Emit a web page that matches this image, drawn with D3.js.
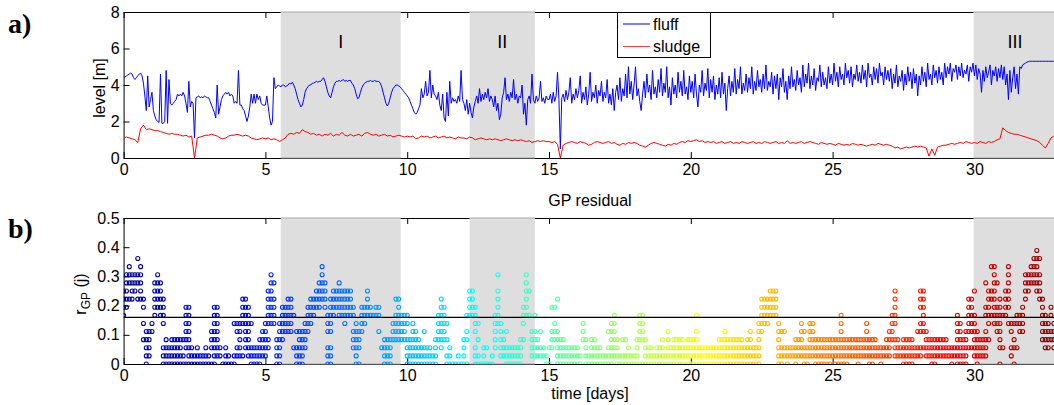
<!DOCTYPE html>
<html>
<head>
<meta charset="utf-8">
<script src="https://cdn.jsdelivr.net/npm/d3@7"></script>
<style>
  body { margin: 0; background: #fff; }
  text { font-family: "Liberation Sans", Arial, sans-serif; }
</style>
</head>
<body>
<div id="chart"></div>
<script>
const fluffStep = 0.05;
const fluff = [
  4.4,4.45,4.5,4.55,4.6,4.65,4.6,4.4,4.3,4.4,4.5,4.6,4.65,4.5,4.1,3.4,2.6,4.5,2.8,3.2,
  3.6,2.6,2.3,2.1,2.0,1.95,4.6,1.9,1.9,2.0,4.8,1.9,4.3,3.0,2.9,3.0,3.1,3.2,3.5,3.4,
  3.5,3.4,3.6,3.4,3.0,2.5,4.2,2.8,3.1,3.0,1.1,3.3,3.35,3.4,3.3,3.35,3.3,3.4,3.35,3.3,
  3.3,3.1,2.9,2.7,2.5,2.2,4.0,2.4,2.8,3.2,3.4,3.5,3.6,3.5,3.6,3.4,3.5,3.4,3.0,3.1,
  3.0,4.8,2.9,2.9,2.7,2.6,2.3,2.0,2.3,2.8,3.5,3.0,3.5,3.0,3.5,3.2,3.4,3.0,2.9,2.9,
  2.9,3.4,2.8,2.2,1.8,2.0,4.4,3.8,3.9,4.0,3.95,3.9,4.0,4.0,3.9,3.95,4.0,4.1,4.05,4.15,
  4.0,3.8,3.5,3.2,3.0,2.8,2.9,3.2,3.6,3.8,3.9,4.0,4.0,4.1,4.1,4.15,4.2,4.15,4.2,4.2,
  4.3,4.4,4.2,3.9,3.6,3.4,3.3,3.6,3.9,4.1,4.2,4.2,4.25,4.2,4.25,4.3,4.2,4.25,4.2,4.25,
  4.25,4.1,4.0,3.8,3.5,3.25,3.3,3.6,3.85,4.0,4.1,4.15,4.2,4.2,4.25,4.2,4.2,4.25,4.2,4.2,
  4.2,4.1,3.9,3.6,3.3,3.0,2.85,3.0,3.3,3.6,3.8,3.9,4.0,4.0,3.95,3.9,3.8,3.7,3.6,3.5,
  3.4,3.3,3.1,2.9,2.7,2.5,2.4,2.5,2.7,2.9,3.8,3.3,3.5,4.2,3.4,3.6,4.8,3.3,4.0,3.5,
  3.4,3.2,3.6,2.9,2.6,3.5,2.2,2.0,3.6,2.3,4.2,3.0,3.3,3.1,3.2,3.0,3.4,3.1,4.8,3.2,
  3.0,2.6,3.2,2.4,3.0,2.5,2.2,2.8,3.1,3.4,3.0,3.8,3.1,3.5,3.2,3.6,3.3,3.8,3.1,3.4,
  3.2,2.8,3.4,2.6,3.0,2.1,2.4,3.3,3.6,4.4,3.2,3.5,3.1,3.6,3.3,4.3,3.2,3.5,3.0,3.4,
  3.3,4.0,2.4,3.0,1.8,3.2,3.4,3.0,4.6,3.2,3.0,3.4,3.1,3.3,4.2,3.1,3.3,3.0,3.4,3.2,
  3.2,3.5,3.0,3.6,3.1,3.4,4.7,3.2,0.5,3.3,3.5,3.1,3.7,3.2,3.6,4.4,3.0,3.5,3.2,3.8,
  3.3,3.7,4.5,3.0,3.6,3.2,3.9,2.9,3.5,4.7,3.1,3.6,3.3,4.0,3.0,3.7,3.4,4.2,3.1,3.6,
  3.3,4.3,3.0,3.5,2.9,3.8,2.6,3.6,4.0,3.2,4.4,3.1,3.8,3.4,4.6,3.3,5.0,3.5,4.2,3.2,
  4.0,5.0,3.4,3.8,3.1,2.6,3.5,4.2,3.3,4.6,3.6,4.0,3.2,4.8,3.5,3.9,3.3,4.3,3.6,4.9,
  3.4,4.1,3.6,5.0,3.3,3.9,2.9,4.4,3.5,4.0,3.3,4.7,3.6,4.2,3.4,4.8,3.5,3.9,3.2,4.5,
  3.6,4.2,3.3,4.6,3.5,2.8,4.0,3.6,4.8,3.4,4.1,3.7,4.9,3.3,4.3,3.6,4.5,3.2,4.0,3.5,
  4.4,3.3,4.7,3.5,4.1,2.6,3.8,4.5,3.4,4.2,3.6,4.9,3.5,4.3,3.8,5.0,3.5,4.1,3.7,4.6,
  3.6,4.4,3.8,5.0,3.5,4.2,3.7,4.8,3.9,4.3,3.6,4.6,3.8,5.1,3.7,4.2,3.9,4.7,3.5,4.5,
  3.8,4.6,3.2,4.4,3.9,4.9,3.6,4.2,3.2,4.5,3.8,5.0,3.9,4.3,3.7,4.8,4.0,4.4,3.6,5.1,
  3.9,4.6,4.1,5.2,3.8,4.5,4.0,4.9,3.7,4.4,4.2,5.1,3.9,4.7,4.0,4.4,3.8,5.0,4.1,4.6,
  4.0,5.2,4.2,4.7,3.9,5.0,4.3,4.6,4.0,5.2,4.4,4.8,4.1,5.0,3.9,4.6,4.3,5.1,4.2,4.7,
  4.1,5.1,4.3,4.8,3.9,5.2,4.4,4.6,4.0,5.0,4.3,4.9,4.1,5.2,4.5,4.7,4.0,5.0,4.3,4.8,
  4.2,4.9,3.8,4.6,4.1,5.1,3.9,4.5,4.2,4.8,3.7,4.6,4.0,5.0,4.2,4.7,3.8,4.9,4.1,4.6,
  3.4,4.5,4.0,5.0,4.2,4.7,3.9,5.2,4.3,4.6,4.0,5.1,4.4,4.8,4.1,5.0,4.3,4.7,4.0,5.2,
  4.4,5.0,4.6,5.2,4.2,4.9,4.7,5.1,4.3,5.0,4.5,5.2,4.4,4.8,4.6,5.1,4.2,5.0,4.7,5.2,
  4.5,5.1,4.3,4.9,4.6,3.6,4.8,4.2,5.0,4.4,4.7,5.1,4.0,4.8,4.5,5.0,4.2,4.9,4.4,5.1,
  4.3,5.0,4.0,4.6,3.2,4.8,3.6,4.4,5.0,3.8,4.6,3.5,5.0,4.9,5.1,5.15,5.2,5.25,5.28,5.3,
  5.3,5.3,5.3,5.3,5.3,5.3,5.3,5.3,5.3,5.3,5.3,5.3,5.3,5.3,5.3,5.3,5.3,5.3,5.3,5.3
];

const sludgeStep = 0.1;
const sludge = [
  1.1,1.15,1.1,1.05,1.0,0.85,1.6,1.8,1.55,1.6,
  1.55,1.5,1.5,1.45,1.4,1.35,1.3,1.35,1.3,1.3,
  1.25,1.2,1.25,1.15,1.2,0.0,1.1,1.15,1.2,1.25,
  1.25,1.3,1.25,1.2,1.1,1.05,1.1,1.2,1.25,1.25,
  1.3,1.25,1.2,1.25,1.2,1.1,1.05,1.0,1.05,1.1,
  1.05,1.1,1.0,1.05,1.0,0.9,1.0,1.1,1.3,1.35,
  1.3,1.4,1.35,1.55,1.45,1.4,1.3,1.35,1.25,1.3,
  1.2,1.3,1.25,1.35,1.2,1.3,1.25,1.4,1.25,1.2,
  1.3,1.2,1.25,1.3,1.2,1.35,1.4,1.3,1.25,1.3,
  1.2,1.25,1.3,1.2,1.25,1.15,1.2,1.25,1.2,1.15,
  1.2,1.15,1.2,1.05,1.1,1.2,1.15,1.2,1.1,1.15,
  1.2,1.1,1.15,1.2,1.1,1.15,1.1,1.05,1.15,1.1,
  1.1,1.05,1.15,1.1,1.0,1.05,1.1,1.05,1.0,1.05,
  1.0,1.05,1.0,0.95,1.0,1.05,1.0,0.95,1.0,0.95,
  1.0,0.95,0.9,0.95,0.85,0.9,0.95,0.9,0.95,0.9,
  0.9,0.85,0.9,0.75,0.0,0.7,0.8,0.85,0.9,0.85,
  0.8,0.9,0.85,0.8,0.7,0.75,0.85,0.9,0.85,0.8,
  0.85,0.9,0.8,0.85,0.75,0.7,0.8,0.75,0.85,0.8,
  0.85,0.8,0.7,0.65,0.6,0.7,0.8,0.85,0.8,0.75,
  0.7,0.65,0.75,0.7,0.8,0.75,0.85,0.9,0.85,0.95,
  0.9,0.95,1.0,0.9,0.95,0.85,0.9,0.85,0.9,0.8,
  0.85,0.9,0.8,0.85,0.9,0.8,0.85,0.8,0.9,0.85,
  0.8,0.85,0.9,0.8,0.85,0.8,0.9,0.85,0.8,0.85,
  0.9,0.8,0.85,0.8,0.95,0.8,0.85,0.8,0.85,0.9,
  0.8,0.85,0.9,0.85,0.8,0.75,0.85,0.8,0.75,0.8,
  0.75,0.7,0.8,0.75,0.7,0.75,0.7,0.8,0.75,0.7,
  0.75,0.7,0.65,0.7,0.75,0.7,0.8,0.75,0.7,0.75,
  0.7,0.65,0.55,0.6,0.5,0.55,0.6,0.55,0.6,0.65,
  0.6,0.65,0.6,0.55,0.1,0.5,0.15,0.6,0.65,0.7,
  0.7,0.75,0.8,0.75,0.8,0.85,0.8,0.9,0.85,0.8,
  0.85,0.8,0.9,0.85,0.8,0.9,0.85,0.9,1.0,1.05,
  1.65,1.5,1.4,1.35,1.3,1.3,1.25,1.2,1.15,1.1,
  1.05,1.0,0.95,0.85,0.7,0.55,0.8,1.1,1.2,1.2
];

// GP residual: one string per residStep days, each char = residual level index (base 36)
const residStep = 0.1;
const levelUnit = 1 / 36;
const residLevels = [
  "6789","789ab","8abc","89ab","9ab","8abd","89abc","3578","01234","1234",
  "45","6789a","789ab","6789a","0125678","0123","012","0123","0123","0123",
  "0123","013","0234567","01234567","012","01","012","01","01","012",
  "01","0234","01234567","1234567","12","0","012","01","0","015",
  "1245","12345","15678","2345678","1234567","0125","012","012","0123","1234",
  "12345","2356789","56789ab","5678a","0123","012345","34567","4567","45678","45678",
  "26","0124","01234","01234","2345","4567","5678","678","789","789a",
  "89abc","789a","012456","01245678","6789","789","6789a","6789","56789","6789",
  "6789","23467","012345","0234","4567","567","6789","67","6","67",
  "467","2","0123","0123","0123","345","34568","345678","3456","3456",
  "012356","0123","012345","01234","0123","012","0124","012","012","01",
  "0123","3456","2345678","34567","0135","012","0","0","01","0",
  "0123","0346","6789","6789","0124567","0135","0","012","02","0",
  "01","23456","56789b","12345","123","0124","012","012","012","012",
  "0123","3567","6789ab","69","1234","12346","123","124","12","01",
  "02","2347","3457","012348","0123","0123","012","012","012","012",
  "012","01","345","0123","01","0123","0123","012","012","01",
  "01","0124","012345","123456","0123","01","013","013","012","01",
  "01","0123","03456","03456","0123","012","012","01","012","012",
  "0123","01","01234","012","0123","0123","0123","0123","012","0123",
  "0123","0123","012346","012","012","012","012","012","012","012",
  "0123","0123","01234","0123","0123","0123","0123","0123","0123","012",
  "0123","01234","012","012","012345","45678","5678","5678","6789","6789",
  "6789","012345","0124","124","012","12","12","0123","123","12345",
  "0124","012","12345","12345","0123","0123","0123","0123","0123","0123",
  "123","0123","0123","0123456","0123","0123","123","123","123","0123",
  "123","123","12345","0123","0123","123","12","012","12","123",
  "1234","3456","12356789","123","12","0123","0123","0123","0123","12",
  "124","1245789","2456789","1234","123","0123","0123","123","123","123",
  "123","12","012","12","0123456","012345","0123","01234","245678","245678",
  "1234569","01234","123","123","123467a","356789","689c","56789abc","4567a","02345678",
  "26","6789","5789abc","1245","0235","256","456","4567","89ab","9ab",
  "abc","abcd","9abcde","89abd","345678","23456","2345","3467","2345","123"
];
const threshold = 0.16;

const phases = [
  {name: "I", from: 5.54, to: 9.77},
  {name: "II", from: 12.2, to: 14.5},
  {name: "III", from: 29.97, to: 33}
];
const xTicks = [0, 5, 10, 15, 20, 25, 30];
const levelTicks = [0, 2, 4, 6, 8];
const residTicks = [0, 0.1, 0.2, 0.3, 0.4, 0.5];

const W = 1054, H = 405;
const svg = d3.select("#chart").append("svg").attr("width", W).attr("height", H);

const x = d3.scaleLinear().domain([0, 33]).range([123.6, 1059.5]);
const yLevel = d3.scaleLinear().domain([0, 8]).range([158, 12]);
const yResid = d3.scaleLinear().domain([0, 0.5]).range([364, 218]);
// jet colormap over the whole time span
const jet = d3.scaleLinear()
  .domain([0, 0.125, 0.375, 0.625, 0.875, 1].map(f => f * 33))
  .range(["#00008f", "#0000ff", "#00ffff", "#ffff00", "#ff0000", "#800000"]);

function panel(y, yTicks, yFmt, id, showPhaseNames) {
  const [yb, yt] = y.range();
  const g = svg.append("g");

  svg.append("clipPath").attr("id", id)
    .append("rect")
    .attr("x", x(0)).attr("y", yt)
    .attr("width", x(33) - x(0)).attr("height", yb - yt);

  const styleAxis = a => {
    a.attr("font-size", 16);
    a.selectAll("path, line").attr("stroke", "#000");
    a.selectAll("text").attr("fill", "#000");
  };

  g.append("g").attr("transform", `translate(0,${yb})`)
    .call(d3.axisBottom(x).tickValues(xTicks).tickSize(-6).tickSizeOuter(0).tickPadding(6))
    .call(styleAxis);
  g.append("g").attr("transform", `translate(0,${yt})`)
    .call(d3.axisTop(x).tickValues(xTicks).tickSize(-6).tickSizeOuter(0).tickFormat(""))
    .call(styleAxis);
  g.append("g").attr("transform", `translate(${x(0)},0)`)
    .call(d3.axisLeft(y).tickValues(yTicks).tickSize(-6).tickSizeOuter(0).tickPadding(4).tickFormat(yFmt))
    .call(styleAxis);

  // grey phases drawn over the frame, as in the original
  const sh = g.append("g").attr("clip-path", `url(#${id})`);
  sh.selectAll("rect.phase").data(phases).enter().append("rect")
    .attr("class", "phase")
    .attr("x", d => x(d.from)).attr("y", yt - 0.5)
    .attr("width", d => x(d.to) - x(d.from)).attr("height", yb - yt + 1)
    .attr("fill", "#dedede");
  g.selectAll("line.pedge").data(phases.flatMap(d => [[d, yt], [d, yb]])).enter().append("line")
    .attr("class", "pedge")
    .attr("x1", d => x(d[0].from)).attr("x2", d => Math.min(x(d[0].to), W))
    .attr("y1", d => d[1]).attr("y2", d => d[1])
    .attr("stroke", "#a9a9a9").attr("stroke-width", 1);

  if (showPhaseNames) {
    g.selectAll("text.pname").data(phases).enter().append("text")
      .attr("class", "pname")
      .attr("x", d => (x(d.from) + Math.min(x(d.to), x(32.9))) / 2)
      .attr("y", 48)
      .attr("text-anchor", "middle")
      .attr("font-size", 18)
      .text(d => d.name);
  }
  return g;
}

// ---------- a) levels ----------
const gA = panel(yLevel, levelTicks, d3.format("d"), "clipA", true);
const plotA = gA.append("g").attr("clip-path", "url(#clipA)");
const lineOf = (step) => d3.line().x((d, i) => x(i * step)).y(d => yLevel(d));
plotA.append("path").datum(fluff)
  .attr("d", lineOf(fluffStep)).attr("fill", "none")
  .attr("stroke", "#0000ff").attr("stroke-width", 1);
plotA.append("path").datum(sludge)
  .attr("d", lineOf(sludgeStep)).attr("fill", "none")
  .attr("stroke", "#ff0000").attr("stroke-width", 1);

// legend
const lg = svg.append("g");
lg.append("rect").attr("x", 617.5).attr("y", 12.5).attr("width", 93).attr("height", 45)
  .attr("fill", "#fff").attr("stroke", "#000");
[["fluff", "#0000ff", 24], ["sludge", "#ff4040", 46.5]].forEach(([name, col, yy]) => {
  lg.append("line").attr("x1", 623).attr("x2", 650).attr("y1", yy).attr("y2", yy)
    .attr("stroke", col).attr("stroke-width", 1);
  lg.append("text").attr("x", 653).attr("y", yy + 5.5).attr("font-size", 16).text(name);
});

svg.append("text").attr("transform", "translate(105,88) rotate(-90)")
  .attr("text-anchor", "middle").attr("font-size", 16).text("level [m]");

// ---------- b) GP residual ----------
const gB = panel(yResid, residTicks, d => d === 0 ? "0" : d3.format(".1f")(d), "clipB", false);
const resid = [];
residLevels.forEach((s, i) => {
  for (const c of s) resid.push({t: i * residStep, r: parseInt(c, 36) * levelUnit});
});
const plotB = gB.append("g").attr("clip-path", "url(#clipB)");
plotB.selectAll("circle").data(resid).enter().append("circle")
  .attr("cx", d => x(d.t)).attr("cy", d => yResid(d.r)).attr("r", 2)
  .attr("fill", "none").attr("stroke", d => jet(d.t)).attr("stroke-width", 1.1);
plotB.append("line")
  .attr("x1", x(0)).attr("x2", x(33))
  .attr("y1", yResid(threshold)).attr("y2", yResid(threshold))
  .attr("stroke", "#000").attr("stroke-width", 1.3);

svg.append("text").attr("x", 590).attr("y", 206).attr("text-anchor", "middle")
  .attr("font-size", 16).text("GP residual");
svg.append("text").attr("x", 590).attr("y", 399).attr("text-anchor", "middle")
  .attr("font-size", 16).text("time [days]");

const rl = svg.append("text").attr("transform", "translate(86,294) rotate(-90)")
  .attr("text-anchor", "middle").attr("font-size", 16);
rl.append("tspan").text("r");
rl.append("tspan").attr("font-size", 12).attr("dy", 4).text("GP");
rl.append("tspan").attr("dy", -4).text(" (j)");

// panel letters, bold serif (style beats the css rule above)
[["a)", 33], ["b)", 238]].forEach(([t, yy]) => {
  svg.append("text").attr("x", 8).attr("y", yy)
    .style("font-family", "'Liberation Serif', 'Times New Roman', serif")
    .style("font-weight", "bold").style("font-size", "28px").text(t);
});
</script>
</body>
</html>
